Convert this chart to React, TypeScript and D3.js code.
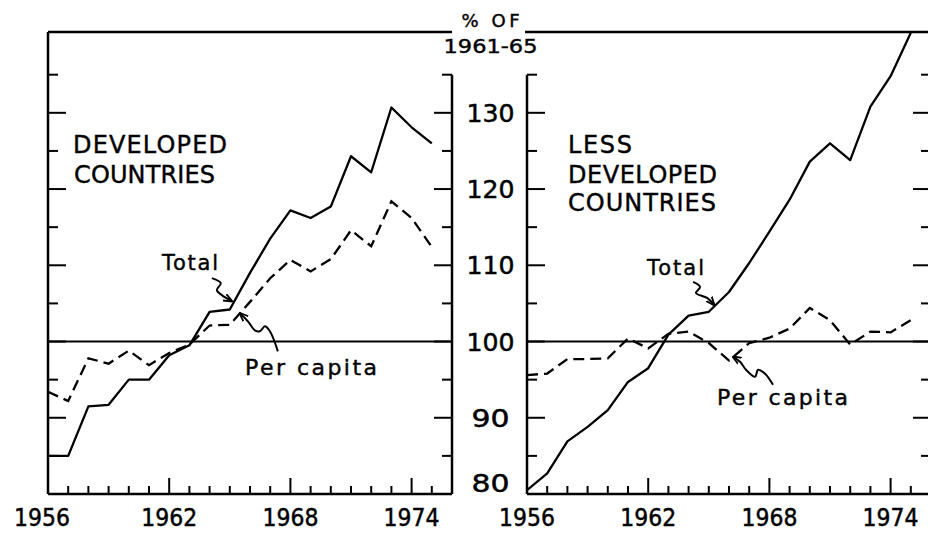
import { useEffect, useRef } from 'react';
import * as d3 from 'd3';

// years on the x axis (one point per year)
const years = [1956, 1957, 1958, 1959, 1960, 1961, 1962, 1963, 1964, 1965,
  1966, 1967, 1968, 1969, 1970, 1971, 1972, 1973, 1974, 1975];

// index numbers, % of 1961-65
const developedTotal = [85.0, 85.0, 91.5, 91.7, 95.0, 95.0, 98.2, 99.5, 103.9, 104.2,
  109.0, 113.5, 117.2, 116.2, 117.7, 124.3, 122.2, 130.7, 128.1, 126.0];
const developedPerCapita = [93.4, 92.2, 97.8, 97.1, 98.8, 96.9, 98.5, 99.6, 102.1, 102.2,
  105.2, 108.3, 110.7, 109.2, 110.8, 114.6, 112.5, 118.4, 116.2, 112.4];
const lessTotal = [80.5, 82.7, 86.9, 88.8, 91.0, 94.7, 96.5, 100.9, 103.4, 103.9,
  106.5, 110.3, 114.4, 118.6, 123.6, 126.0, 123.8, 130.8, 134.8, 140.5];
const lessPerCapita = [95.6, 95.8, 97.7, 97.7, 97.8, 100.4, 99.1, 101.0, 101.3, 99.8,
  97.5, 99.8, 100.5, 101.7, 104.4, 102.8, 99.6, 101.3, 101.2, 102.8];

const yearLabels = [1956, 1962, 1968, 1974];
const valueLabels = [80, 90, 100, 110, 120, 130];
const minorValueTicks = [85, 90, 95, 100, 105, 110, 115, 120, 125, 130, 135];

const FONT = '"DejaVu Sans", "Liberation Sans", sans-serif';

function App() {
  const svgRef = useRef<SVGSVGElement | null>(null);

  useEffect(() => {
    const svg = d3.select(svgRef.current);
    svg.selectAll('*').remove();

    const y = d3.scaleLinear().domain([80, 140.6]).range([494, 32]);
    const xLeft = d3.scaleLinear().domain([1956, 1976]).range([48, 452]);
    const xRight = d3.scaleLinear().domain([1956, 1976]).range([527, 931]);

    const defs = svg.append('defs');
    defs.append('marker')
      .attr('id', 'arrow')
      .attr('viewBox', '0 0 10 10')
      .attr('refX', 9).attr('refY', 5)
      .attr('markerWidth', 9).attr('markerHeight', 9)
      .attr('markerUnits', 'userSpaceOnUse')
      .attr('orient', 'auto')
      .append('path')
      .attr('d', 'M0,1 L10,5 L0,9')
      .attr('fill', 'none')
      .attr('stroke', '#000')
      .attr('stroke-width', 2);

    // digits are drawn narrow in the original lettering, squeeze them
    const numText = (sel: d3.Selection<any, any, any, any>) => sel
      .attr('font-family', FONT)
      .attr('font-size', 25)
      .attr('stroke', '#000').attr('stroke-width', 0.5)
      .attr('lengthAdjust', 'spacingAndGlyphs');

    const drawPanel = (x: d3.ScaleLinear<number, number>, total: number[], perCapita: number[],
      openLeftTop: boolean, id: string) => {
      const g = svg.append('g');
      const [x0, x1] = x.range();
      const yTop = y(140.6), yBot = y(80), y135 = y(135);

      defs.append('clipPath').attr('id', id)
        .append('rect').attr('x', x0).attr('y', yTop).attr('width', x1 - x0).attr('height', yBot - yTop);

      // frame
      const frame = g.append('g').attr('stroke', '#000').attr('stroke-width', 2.5).attr('fill', 'none');
      frame.append('line').attr('x1', x0).attr('x2', x1).attr('y1', yBot).attr('y2', yBot);
      frame.append('line').attr('x1', x0 - (openLeftTop ? 2 : 0)).attr('x2', x1).attr('y1', yTop).attr('y2', yTop);
      // left and right borders; inner ones stop at 135
      frame.append('line').attr('x1', x0).attr('x2', x0)
        .attr('y1', openLeftTop ? y135 : yTop).attr('y2', yBot);
      frame.append('line').attr('x1', x1).attr('x2', x1)
        .attr('y1', openLeftTop ? yTop : y135).attr('y2', yBot);

      // y ticks on both borders, pointing inward
      minorValueTicks.forEach(v => {
        const len = v % 10 === 0 ? 18 : 10;
        frame.append('line').attr('x1', x0).attr('x2', x0 + len).attr('y1', y(v)).attr('y2', y(v)).attr('stroke-width', 2);
        frame.append('line').attr('x1', x1).attr('x2', x1 - len).attr('y1', y(v)).attr('y2', y(v)).attr('stroke-width', 2);
      });

      // x ticks
      years.slice(1).forEach(yr => {
        const len = yearLabels.includes(yr) ? 16 : 8;
        frame.append('line').attr('x1', x(yr)).attr('x2', x(yr)).attr('y1', yBot).attr('y2', yBot - len).attr('stroke-width', 2);
      });

      // 100 reference
      g.append('line').attr('x1', x0).attr('x2', x1).attr('y1', y(100)).attr('y2', y(100))
        .attr('stroke', '#000').attr('stroke-width', 2);

      // year labels
      g.selectAll('text.year').data(yearLabels).enter().append('text')
        .attr('x', d => x(d) - (d === 1956 && !openLeftTop ? 6 : 0))
        .attr('y', 526)
        .attr('text-anchor', 'middle')
        .call(numText)
        .attr('textLength', 56)
        .text(d => d);

      const line = d3.line<number>()
        .x((_, i) => x(years[i]))
        .y(d => y(d));

      const lines = g.append('g').attr('clip-path', `url(#${id})`);
      lines.append('path').attr('d', line(total))
        .attr('fill', 'none').attr('stroke', '#000').attr('stroke-width', 2.3).attr('stroke-linejoin', 'round');
      lines.append('path').attr('d', line(perCapita))
        .attr('fill', 'none').attr('stroke', '#000').attr('stroke-width', 2.3)
        .attr('stroke-dasharray', '11,6');
      return g;
    };

    const left = drawPanel(xLeft, developedTotal, developedPerCapita, false, 'clipL');
    const right = drawPanel(xRight, lessTotal, lessPerCapita, true, 'clipR');

    // shared value labels between the panels
    const mid = (xLeft.range()[1] + xRight.range()[0]) / 2 + 1;
    svg.selectAll('text.val').data(valueLabels).enter().append('text')
      .attr('x', mid)
      .attr('y', d => Math.min(y(d), y(80) - 11))
      .attr('dy', '0.36em')
      .attr('text-anchor', 'middle')
      .call(numText)
      .attr('textLength', d => (String(d).length === 3 ? 48 : 38))
      .text(d => d);

    const label = (g: d3.Selection<any, any, any, any>, text: string, tx: number, ty: number,
      size: number, width: number, anchor = 'start', adjust = 'spacing') => {
      g.append('text')
        .attr('x', tx).attr('y', ty)
        .attr('text-anchor', anchor)
        .attr('font-family', FONT)
        .attr('font-size', size)
        .attr('stroke', '#000').attr('stroke-width', 0.4)
        .attr('textLength', width).attr('lengthAdjust', adjust)
        .text(text);
    };

    label(svg, '% OF', mid, 27, 18, 58, 'middle');
    label(svg, '1961-65', mid, 53, 19, 94, 'middle', 'spacingAndGlyphs');

    label(left, 'DEVELOPED', 73, 153, 24, 154);
    label(left, 'COUNTRIES', 74, 183, 24, 141);
    label(right, 'LESS', 568, 153, 24, 64);
    label(right, 'DEVELOPED', 568, 183, 24, 149);
    label(right, 'COUNTRIES', 568, 211, 24, 148);

    label(left, 'Total', 162, 270, 21, 56);
    label(left, 'Per capita', 245, 375, 22, 132);
    label(right, 'Total', 647, 275, 21, 57);
    label(right, 'Per capita', 717, 405, 22, 131);

    // wiggly callout arrows, anchored on a data point, offsets in pixels
    const callout = (x: d3.ScaleLinear<number, number>, yr: number, v: number, pts: [number, number][]) => {
      const tx = x(yr), ty = y(v);
      const path = d3.line().curve(d3.curveCatmullRom)(pts.map(([dx, dy]) => [tx + dx, ty + dy]));
      svg.append('path').attr('d', path)
        .attr('fill', 'none').attr('stroke', '#000').attr('stroke-width', 2)
        .attr('marker-end', 'url(#arrow)');
    };

    callout(xLeft, 1965.1, 105.3, [[-20, -23], [-11, -18], [-15, -11], [-10, -6], [0, 0]]);
    callout(xLeft, 1965.5, 103.7, [[38, 38], [30, 18], [25, 13], [20, 18], [15, 17], [8, 8], [0, 0]]);
    callout(xRight, 1965.26, 104.8, [[-21, -23], [-14, -18], [-18, -12], [-7, -7], [0, 0]]);
    callout(xRight, 1966.2, 98.0, [[40, 28], [32, 17], [25, 13], [22, 20], [13, 13], [7, 5], [0, 0]]);
  }, []);

  return (
    <svg
      ref={svgRef}
      width={928}
      height={533}
      style={{ position: 'absolute', left: 0, top: 0, background: '#fff' }}
    />
  );
}

export default App;
